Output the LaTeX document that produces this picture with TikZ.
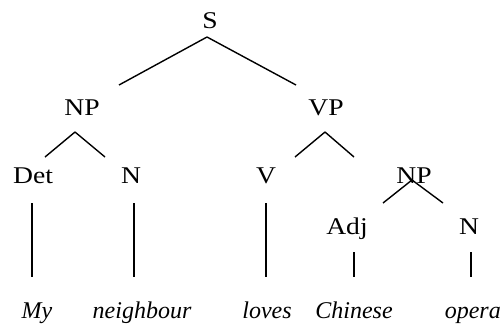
\documentclass[tikz,border=0pt]{standalone}
\usepackage{fontspec}
\setmainfont{Liberation Serif}
\newfontfamily\widefont[FakeStretch=1.15]{Liberation Serif}
\begin{document}
\begin{tikzpicture}[x=1pt,y=-1pt,
  lab/.style={inner sep=0pt,anchor=base,font=\widefont\fontsize{24}{24}\selectfont},
  word/.style={inner sep=0pt,anchor=base,font=\fontsize{24}{24}\selectfont\itshape},
  edge/.style={line width=1.4pt}]
\useasboundingbox (0,0) rectangle (502,327);
\node[lab] (S) at (210,28) {S};
\node[lab] (NPa) at (82,115) {NP};
\node[lab] (VP) at (326,115) {VP};
\node[lab] (Det) at (33,183) {Det};
\node[lab] (Na) at (131,183) {N};
\node[lab] (V) at (266,183) {V};
\node[lab] (NPb) at (414,183) {NP};
\node[lab] (Adj) at (347,234) {Adj};
\node[lab] (Nb) at (469,234) {N};
\node[word] (my) at (37,318) {My};
\node[word] (neigh) at (142,318) {neighbour};
\node[word] (loves) at (267,318) {loves};
\node[word] (chin) at (354,318) {Chinese};
\node[word,anchor=base east] (opera) at (501,318) {opera};
\draw[edge] ([shift={(-3,9)}]S.base) -- ([shift={(37,-30)}]NPa.base);
\draw[edge] ([shift={(-3,9)}]S.base) -- ([shift={(-30,-30)}]VP.base);
\draw[edge] ([shift={(-7,17)}]NPa.base) -- ([shift={(12,-26)}]Det.base);
\draw[edge] ([shift={(-7,17)}]NPa.base) -- ([shift={(-26,-26)}]Na.base);
\draw[edge] ([shift={(-1,17)}]VP.base) -- ([shift={(29,-26)}]V.base);
\draw[edge] ([shift={(-1,17)}]VP.base) -- ([shift={(-60,-26)}]NPb.base);
\draw[edge] ([shift={(-1,20)}]Det.base) -- ([shift={(-5,-41)}]my.base);
\draw[edge] ([shift={(3,20)}]Na.base) -- ([shift={(-8,-41)}]neigh.base);
\draw[edge] ([shift={(0,20)}]V.base) -- ([shift={(-1,-41)}]loves.base);
\draw[edge] ([shift={(-2,-3)}]NPb.base) -- ([shift={(36,-31)}]Adj.base);
\draw[edge] ([shift={(-2,-3)}]NPb.base) -- ([shift={(-26,-31)}]Nb.base);
\draw[edge] ([shift={(7,18)}]Adj.base) -- ([shift={(0,-41)}]chin.base);
\draw[edge] ([shift={(2,18)}]Nb.base) -- ([shift={(-30,-41)}]opera.base east);
\end{tikzpicture}
\end{document}
